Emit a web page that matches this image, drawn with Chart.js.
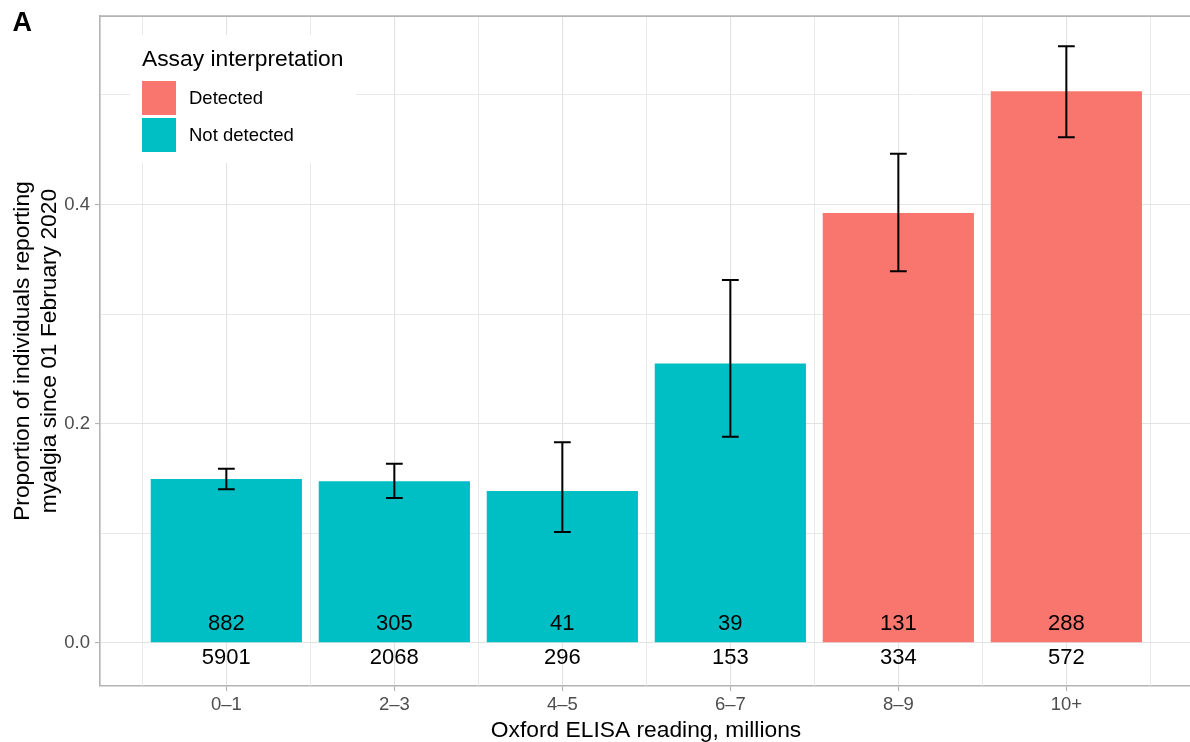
<!DOCTYPE html>
<html>
<head>
<meta charset="utf-8">
<script src="https://cdn.jsdelivr.net/npm/chart.js@4/dist/chart.umd.min.js"></script>
<style>
  html, body { margin: 0; padding: 0; background: #ffffff; overflow: hidden; }
  canvas { display: block; }
</style>
</head>
<body>
<canvas id="chart" width="1190" height="742"></canvas>
<script>
// Myalgia reporting by Oxford ELISA reading band
const categories = ['0–1', '2–3', '4–5', '6–7', '8–9', '10+'];
const interpretation = ['Not detected', 'Not detected', 'Not detected', 'Not detected', 'Detected', 'Detected'];
const reported = [882, 305, 41, 39, 131, 288];
const tested = [5901, 2068, 296, 153, 334, 572];
const proportion = [0.1495, 0.1475, 0.1385, 0.2549, 0.3922, 0.5035];
const ciLower = [0.1400, 0.1320, 0.1010, 0.1880, 0.3390, 0.4615];
const ciUpper = [0.1588, 0.1633, 0.1830, 0.3312, 0.4464, 0.5445];
const yTickLabels = [0.0, 0.2, 0.4];
const yMinorTicks = [0.1, 0.3, 0.5];
const legendLevels = ['Detected', 'Not detected'];

const palette = { 'Detected': '#F8766D', 'Not detected': '#00BFC4' };
const FONT = '"Liberation Sans", Arial, Helvetica, sans-serif';
const GRID = '#e3e3e3';
const FRAME = '#b3b3b3';
const TICK_TEXT = '#4d4d4d';

const points = categories.map((c, i) => ({ x: i + 1, y: proportion[i] }));

const isMajorY = v => yTickLabels.some(t => Math.abs(t - v) < 1e-9);

// Minor x grid lines, legend panel and error bars / count labels
const decorations = {
  id: 'decorations',
  beforeDatasetsDraw(chart) {
    const { ctx, chartArea: a, scales: { x } } = chart;
    ctx.save();
    ctx.strokeStyle = GRID;
    ctx.lineWidth = 0.8;
    for (let i = 0; i <= categories.length; i++) {
      const px = Math.round(x.getPixelForValue(i + 0.5)) + 0.5;
      ctx.beginPath();
      ctx.moveTo(px, a.top);
      ctx.lineTo(px, a.bottom);
      ctx.stroke();
    }
    // legend
    ctx.fillStyle = '#ffffff';
    ctx.fillRect(130, 35, 226, 128);
    ctx.fillStyle = '#000000';
    ctx.font = '22.8px ' + FONT;
    ctx.textAlign = 'left';
    ctx.textBaseline = 'alphabetic';
    ctx.fillText('Assay interpretation', 142, 65.5);
    ctx.font = '18.5px ' + FONT;
    ctx.textBaseline = 'middle';
    legendLevels.forEach((lvl, k) => {
      const top = 81 + k * 37;
      ctx.fillStyle = palette[lvl];
      ctx.fillRect(142, top, 34, 34);
      ctx.fillStyle = '#000000';
      ctx.fillText(lvl, 189, top + 17.5);
    });
    ctx.restore();
  },
  afterDatasetsDraw(chart) {
    const { ctx, scales: { x, y } } = chart;
    ctx.save();
    // error bars
    ctx.strokeStyle = '#000000';
    ctx.lineWidth = 2;
    ctx.lineCap = 'butt';
    categories.forEach((c, i) => {
      const cx = x.getPixelForValue(i + 1);
      const l = x.getPixelForValue(i + 1 - 0.05);
      const r = x.getPixelForValue(i + 1 + 0.05);
      const lo = y.getPixelForValue(ciLower[i]);
      const hi = y.getPixelForValue(ciUpper[i]);
      ctx.beginPath();
      ctx.moveTo(cx, hi); ctx.lineTo(cx, lo);
      ctx.moveTo(l, hi); ctx.lineTo(r, hi);
      ctx.moveTo(l, lo); ctx.lineTo(r, lo);
      ctx.stroke();
    });
    // counts: reported inside the bar, tested below the baseline
    ctx.fillStyle = '#000000';
    ctx.font = '22px ' + FONT;
    ctx.textAlign = 'center';
    ctx.textBaseline = 'middle';
    categories.forEach((c, i) => {
      const cx = x.getPixelForValue(i + 1);
      ctx.fillText(String(reported[i]), cx, y.getPixelForValue(0.0168));
      ctx.fillText(String(tested[i]), cx, y.getPixelForValue(-0.0138));
    });
    ctx.restore();
  },
  afterDraw(chart) {
    const { ctx, chartArea: a } = chart;
    ctx.save();
    // top frame line
    ctx.strokeStyle = FRAME;
    ctx.lineWidth = 1.6;
    ctx.beginPath();
    ctx.moveTo(a.left, a.top);
    ctx.lineTo(a.right, a.top);
    ctx.stroke();
    // axis titles
    ctx.fillStyle = '#000000';
    ctx.font = '22.8px ' + FONT;
    ctx.textAlign = 'center';
    ctx.textBaseline = 'alphabetic';
    ctx.fillText('Oxford ELISA reading, millions', (a.left + 1192) / 2, 736.5);
    const cy = (a.top + a.bottom) / 2;
    ctx.translate(0, cy);
    ctx.rotate(-Math.PI / 2);
    ctx.fillText('Proportion of individuals reporting', 0, 29);
    ctx.fillText('myalgia since 01 February 2020', 0, 55.5);
    ctx.restore();
    // panel tag
    ctx.save();
    ctx.fillStyle = '#000000';
    ctx.font = 'bold 27px ' + FONT;
    ctx.textAlign = 'left';
    ctx.textBaseline = 'alphabetic';
    ctx.fillText('A', 12.5, 30.7);
    ctx.restore();
  }
};

new Chart(document.getElementById('chart'), {
  type: 'bar',
  data: {
    datasets: [{
      data: points,
      backgroundColor: interpretation.map(v => palette[v]),
      borderWidth: 0,
      categoryPercentage: 1,
      barPercentage: 0.9
    }]
  },
  options: {
    responsive: false,
    animation: false,
    devicePixelRatio: 1,
    layout: { padding: { top: 13, left: 0, right: 0, bottom: 0 } },
    plugins: { legend: { display: false }, tooltip: { enabled: false } },
    scales: {
      x: {
        type: 'linear',
        offset: false,
        bounds: 'data',
        min: 0.248,
        max: 6.736,
        afterBuildTicks: s => { s.ticks = categories.map((c, i) => ({ value: i + 1 })); },
        afterFit: s => { s.height = 56; },
        ticks: {
          autoSkip: false,
          maxRotation: 0,
          padding: 3,
          color: TICK_TEXT,
          font: { family: FONT, size: 18.5 },
          callback: v => categories[Math.round(v) - 1]
        },
        grid: { offset: false, color: GRID, lineWidth: 1.1, tickLength: 5, tickColor: FRAME, tickWidth: 1.1 },
        border: { color: FRAME, width: 1.6 }
      },
      y: {
        type: 'linear',
        min: -0.0395,
        max: 0.572,
        afterBuildTicks: s => {
          s.ticks = yTickLabels.concat(yMinorTicks).sort((a, b) => a - b).map(v => ({ value: v }));
        },
        afterFit: s => { s.width = 100; },
        ticks: {
          autoSkip: false,
          padding: 5,
          color: TICK_TEXT,
          font: { family: FONT, size: 18.5 },
          callback: v => isMajorY(v) ? v.toFixed(1) : ''
        },
        grid: {
          color: GRID,
          lineWidth: c => (c.tick && isMajorY(c.tick.value)) ? 1.1 : 0.8,
          tickLength: 5,
          tickWidth: 1.1,
          tickColor: c => (c.tick && isMajorY(c.tick.value)) ? FRAME : 'rgba(0,0,0,0)'
        },
        border: { color: FRAME, width: 1.6 }
      }
    }
  },
  plugins: [decorations]
});
</script>
</body>
</html>
